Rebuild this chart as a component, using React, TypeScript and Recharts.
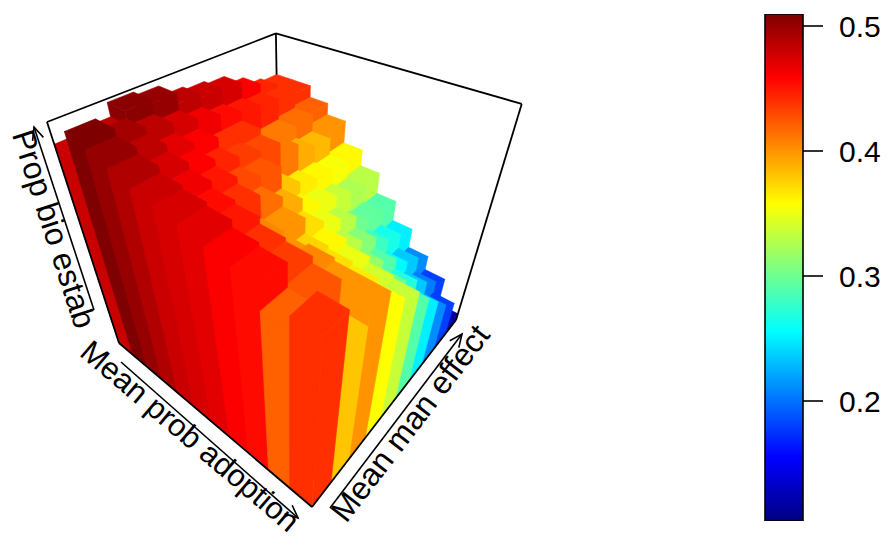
import React from 'react';
import { ComposedChart, Scatter, XAxis, YAxis, BarChart, Bar } from 'recharts';

// Bins of "Mean prob adoption" (x, 11 classes) and "Mean man effect" (y, 10 classes)
const adoptionBins = [0, 1, 2, 3, 4, 5, 6, 7, 8, 9, 10];
const effectBins = [0, 1, 2, 3, 4, 5, 6, 7, 8, 9];

// "Prop bio estab" for each man-effect bin, listed over the adoption bins
const estabEffect0 = [0.48, 0.51, 0.5, 0.49, 0.48, 0.475, 0.47, 0.46, 0.455, 0.42, 0.44];
const estabEffect1 = [0.485, 0.495, 0.485, 0.475, 0.465, 0.455, 0.45, 0.44, 0.435, 0.425, 0.38];
const estabEffect2 = [0.505, 0.485, 0.47, 0.46, 0.45, 0.44, 0.405, 0.4, 0.405, 0.4, 0.4];
const estabEffect3 = [0.5, 0.475, 0.46, 0.445, 0.43, 0.415, 0.4, 0.375, 0.37, 0.365, 0.357];
const estabEffect4 = [0.485, 0.465, 0.44, 0.435, 0.425, 0.39, 0.37, 0.36, 0.35, 0.34, 0.335];
const estabEffect5 = [0.48, 0.455, 0.44, 0.43, 0.38, 0.36, 0.35, 0.33, 0.315, 0.3, 0.29];
const estabEffect6 = [0.475, 0.45, 0.41, 0.41, 0.365, 0.35, 0.33, 0.31, 0.29, 0.27, 0.25];
const estabEffect7 = [0.46, 0.445, 0.41, 0.39, 0.36, 0.335, 0.3, 0.28, 0.255, 0.235, 0.21];
const estabEffect8 = [0.445, 0.44, 0.415, 0.385, 0.355, 0.325, 0.295, 0.265, 0.235, 0.205, 0.18];
const estabEffect9 = [0.44, 0.44, 0.42, 0.4, 0.36, 0.33, 0.29, 0.25, 0.21, 0.18, 0.12];
const estabRows = [
  estabEffect0, estabEffect1, estabEffect2, estabEffect3, estabEffect4,
  estabEffect5, estabEffect6, estabEffect7, estabEffect8, estabEffect9,
];

// Colour key
const colorKeyTicks = [0.2, 0.3, 0.4, 0.5];
const colorKeyRange: [number, number] = [0.104, 0.5096];

// ---- view (layout) ----
const FONT = "'Liberation Sans', Arial, Helvetica, sans-serif";
const PX = [119, 119.8, 238.78, -85.94];
const PY = [343, 45.05, -52.89, -257.17];
const PW = [1, -0.23462, 0.28194, -0.29666];
const EYE = [1.4, -0.59];

function project(x: number, y: number, z: number): [number, number] {
  const w = PW[0] + PW[1] * x + PW[2] * y + PW[3] * z;
  const X = PX[0] + PX[1] * x + PX[2] * y + PX[3] * z;
  const Y = PY[0] + PY[1] * x + PY[2] * y + PY[3] * z;
  return [X / w, Y / w];
}

const jetStops = ['#00007F', '#0000FF', '#007FFF', '#00FFFF', '#7FFF7F', '#FFFF00', '#FF7F00', '#FF0000', '#7F0000'];
function hexToRgb(h: string) {
  return [parseInt(h.slice(1, 3), 16), parseInt(h.slice(3, 5), 16), parseInt(h.slice(5, 7), 16)];
}
function jet(v: number) {
  let f = (v - colorKeyRange[0]) / (colorKeyRange[1] - colorKeyRange[0]);
  f = Math.max(0, Math.min(1, f));
  const pos = f * (jetStops.length - 1);
  const k = Math.min(jetStops.length - 2, Math.floor(pos));
  const t = pos - k;
  const a = hexToRgb(jetStops[k]);
  const b = hexToRgb(jetStops[k + 1]);
  const c = a.map((av, n) => Math.round(av + (b[n] - av) * t));
  return `rgb(${c[0]},${c[1]},${c[2]})`;
}

type Cell = { i: number; j: number; v: number };
const nx = adoptionBins.length;
const ny = effectBins.length;
const depth = (c: Cell) => {
  const xc = (c.i + 0.5) / nx;
  const yc = (c.j + 0.5) / ny;
  return (xc - EYE[0]) ** 2 + (yc - EYE[1]) ** 2;
};
const cells: Cell[] = effectBins
  .flatMap((j) => adoptionBins.map((i) => ({ i, j, v: estabRows[j][i] })))
  .sort((a, b) => depth(b) - depth(a));

const pts = (list: [number, number, number][]) =>
  list.map(([x, y, z]) => project(x, y, z).map((n) => n.toFixed(2)).join(',')).join(' ');

function BarShape(props: any) {
  const p: Cell = props.payload;
  if (!p) return <g />;
  const x0 = p.i / nx;
  const x1 = (p.i + 1) / nx;
  const y0 = p.j / ny;
  const y1 = (p.j + 1) / ny;
  const z = (p.v - colorKeyRange[0]) / (colorKeyRange[1] - colorKeyRange[0]);
  const c = jet(p.v);
  return (
    <g>
      <polygon points={pts([[x0, y0, 0], [x1, y0, 0], [x1, y0, z], [x0, y0, z]])} fill={c} stroke={c} strokeWidth={0.6} />
      <polygon points={pts([[x1, y0, 0], [x1, y1, 0], [x1, y1, z], [x1, y0, z]])} fill={c} stroke={c} strokeWidth={0.6} />
      <polygon points={pts([[x0, y0, z], [x1, y0, z], [x1, y1, z], [x0, y1, z]])} fill={c} stroke={c} strokeWidth={0.6} />
    </g>
  );
}

function Arrow({ from, to }: { from: [number, number]; to: [number, number] }) {
  const ang = Math.atan2(to[1] - from[1], to[0] - from[0]);
  const len = 14;
  const wing = 0.42;
  const a1: [number, number] = [to[0] - len * Math.cos(ang - wing), to[1] - len * Math.sin(ang - wing)];
  const a2: [number, number] = [to[0] - len * Math.cos(ang + wing), to[1] - len * Math.sin(ang + wing)];
  return (
    <g stroke="#000" strokeWidth={1.6} fill="none">
      <line x1={from[0]} y1={from[1]} x2={to[0]} y2={to[1]} />
      <polyline points={`${a1[0]},${a1[1]} ${to[0]},${to[1]} ${a2[0]},${a2[1]}`} />
    </g>
  );
}

const L0 = project(0, 0, 0);
const F0 = project(1, 0, 0);
const R0 = project(1, 1, 0);
const B0 = project(0, 1, 0);
const L1 = project(0, 0, 1);
const R1 = project(1, 1, 1);
const B1 = project(0, 1, 1);
const seg = (a: [number, number], b: [number, number]) => (
  <line x1={a[0]} y1={a[1]} x2={b[0]} y2={b[1]} />
);

const keyData = [{ k: 'key', range: colorKeyRange }];

export default function App() {
  const abs: React.CSSProperties = { position: 'absolute', left: 0, top: 0 };
  return (
    <div style={{ position: 'absolute', left: 0, top: 0, width: 891, height: 540, background: '#fff', fontFamily: FONT }}>
      <svg width={891} height={540} style={abs}>
        <g stroke="#000" strokeWidth={1.8} fill="none">
          {seg(L1, B1)}
          {seg(B1, R1)}
          {seg(B1, B0)}
          {seg(B0, L0)}
          {seg(B0, R0)}
        </g>
      </svg>
      <div style={abs}>
        <ComposedChart width={891} height={540} margin={{ top: 0, right: 0, bottom: 0, left: 0 }}>
          <XAxis type="number" dataKey="i" domain={[0, nx]} hide />
          <YAxis type="number" dataKey="j" domain={[0, ny]} hide />
          <Scatter data={cells} dataKey="j" shape={BarShape} isAnimationActive={false} />
        </ComposedChart>
      </div>
      <svg width={891} height={540} style={abs}>
        <g stroke="#000" strokeWidth={1.8} fill="none">
          {seg(L0, L1)}
          {seg(L0, F0)}
          {seg(F0, R0)}
          {seg(R0, R1)}
        </g>
        <Arrow from={[94, 310]} to={[34, 127]} />
        <Arrow from={[121, 362]} to={[298, 518]} />
        <Arrow from={[330, 508]} to={[462, 334]} />
        <g fontFamily={FONT} fill="#000" textAnchor="middle" dominantBaseline="central">
          <text fontSize={32} transform="translate(54,229) rotate(72)">Prop bio estab</text>
          <text fontSize={31} transform="translate(190,436) rotate(40.4)">Mean prob adoption</text>
          <text fontSize={32} transform="translate(410,423) rotate(-52.4)">Mean man effect</text>
        </g>
      </svg>
      <div style={{ position: 'absolute', left: 740, top: 0 }}>
        <BarChart
          width={151}
          height={540}
          data={keyData}
          margin={{ top: 14, right: 0, bottom: 19, left: 25 }}
          barCategoryGap={0}
          barGap={0}
        >
          <defs>
            <linearGradient id="jetGrad" x1="0" y1="1" x2="0" y2="0">
              {jetStops.map((c, n) => (
                <stop key={n} offset={n / (jetStops.length - 1)} stopColor={c} />
              ))}
            </linearGradient>
          </defs>
          <XAxis dataKey="k" type="category" hide />
          <YAxis
            orientation="right"
            type="number"
            domain={colorKeyRange}
            ticks={colorKeyTicks}
            width={88}
            axisLine={false}
            tickSize={20}
            tickMargin={16}
            tickLine={{ stroke: '#000', strokeWidth: 1.6 }}
            tick={{ fontSize: 30, fill: '#000', fontFamily: FONT }}
            allowDataOverflow
          />
          <Bar dataKey="range" fill="url(#jetGrad)" stroke="#000" strokeWidth={1.6} isAnimationActive={false} />
        </BarChart>
      </div>
    </div>
  );
}
